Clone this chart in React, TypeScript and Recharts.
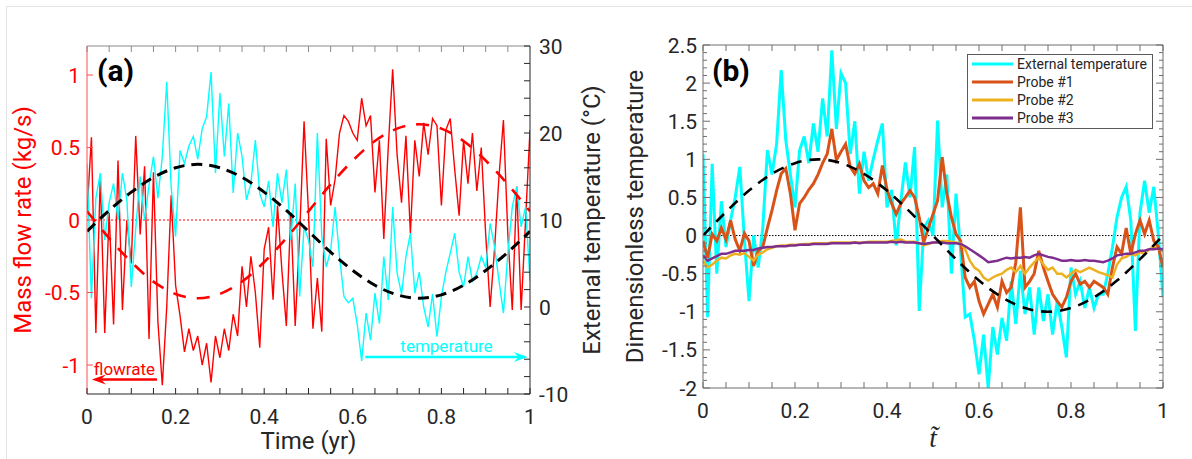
import React from 'react'
import { LineChart, Line, XAxis, YAxis, ReferenceLine, Legend } from 'recharts'

const FONT = 'Roboto, "Noto Sans", sans-serif'
const INK = '#262626'
const RED = '#ff0000'
const CYAN = '#00ffff'
const P1 = '#d95319'
const P2 = '#edb120'
const P3 = '#7e2f8e'

// ---- panel (a): one sample every 0.01 yr
const flowRate = [
  0.05, 0.57, -0.78, 0.3, -0.78, 0.05, -0.72, 0.41, -0.62, 0.0,
  -0.3, 0.58, -0.1, 0.37, -0.82, 0.33, -0.7, -1.14, -0.6, 0.17,
  -0.45, -0.66, -0.91, -0.75, -0.9, -0.8, -1.0, -0.85, -1.12, -0.8,
  -0.95, -0.75, -0.9, -0.65, -0.8, -0.32, -0.6, -0.25, -0.5, -0.88,
  -0.2, -0.05, -0.55, 0.1, -0.35, -0.73, 0.05, -0.73, -0.1, 0.68,
  0.05, -0.75, -0.4, -0.77, 0.56, 0.1, 0.28, 0.6, 0.72, 0.68,
  0.6, 0.55, 0.84, 0.65, 0.72, 0.19, 0.55, -0.13, 0.5, 1.04,
  0.45, 0.12, 0.58, -0.09, 0.55, 0.3, 0.67, 0.45, 0.7, 0.65,
  0.1, 0.62, 0.7, 0.35, 0.03, 0.55, 0.25, 0.6, 0.2, 0.5,
  -0.1, -0.6, -0.2, 0.3, 0.69, -0.1, -0.62, 0.23, -0.62, 0.0,
  0.62,
]
const extTempA = [
  16.5, 1.0, 12.5, 15.4, 7.7, 12.0, 14.2, 10.0, 15.4, 12.3,
  2.3, 9.0, 15.0, 10.0, 14.0, 17.3, 12.5, 17.3, 25.9, 13.8,
  8.1, 18.0, 16.5, 18.5, 19.6, 17.0, 20.5, 21.9, 27.0, 15.4,
  24.6, 17.3, 23.4, 13.1, 20.0, 17.3, 12.3, 14.2, 19.2, 13.0,
  11.5, 14.5, 9.2, 15.4, 12.0, 15.8, 7.7, 14.2, 1.2, 9.2,
  7.7, 4.6, 20.0, 8.1, 4.6, 6.5, 11.5, 5.8, 1.2, 0.5,
  1.0, -2.0, -6.2, -0.7, -3.8, 1.6, -1.9, 5.8, 0.8, 11.5,
  3.9, 1.5, 5.8, 8.5, 1.6, 4.0, 0.0, -2.3, 1.5, -3.4,
  1.2, 4.0, 6.2, 8.5, 4.0, 2.3, 5.8, 3.0, 3.9, 5.8,
  4.5, 9.6, 6.9, 3.0, -0.7, 6.2, 11.5, 13.8, 9.2, 11.5,
  3.0,
]
// fitted sinusoids, every 0.05
const fitTime = [0, 0.05, 0.1, 0.15, 0.2, 0.25, 0.3, 0.35, 0.4, 0.45, 0.5, 0.55, 0.6, 0.65, 0.7, 0.75, 0.8, 0.85, 0.9, 0.95, 1]
const flowFit = [0.06, -0.125, -0.29, -0.425, -0.51, -0.54, -0.51, -0.425, -0.29, -0.125, 0.06, 0.245, 0.41, 0.545, 0.63, 0.66, 0.63, 0.545, 0.41, 0.245, 0.06]
const tempFit = [8.7, 11.1, 13.2, 14.9, 16.0, 16.4, 16.0, 14.9, 13.2, 11.1, 8.7, 6.3, 4.2, 2.5, 1.4, 1.0, 1.4, 2.5, 4.2, 6.3, 8.7]

// ---- panel (b): dimensionless, every 0.01
const extTempB = [
  1.07, -1.07, 0.94, -0.5, 0.45, -0.15, 0.2, 0.5, 0.9, -0.05,
  -0.86, 0.0, -0.42, 0.1, 1.12, 0.8, 1.2, 2.17, 1.25, 0.8,
  0.37, 1.12, 1.3, 0.95, 1.47, 1.1, 1.8, 1.3, 2.43, 1.4,
  2.13, 2.0, 1.07, 1.5, 0.55, 1.1, 0.72, 1.0, 1.25, 1.47,
  0.37, 0.6, -0.13, 0.45, 0.96, 0.5, 1.16, -0.99, 0.1, 0.2,
  0.0, 1.51, 0.37, 0.8, -0.5, 0.55, -0.2, -1.07, -1.03, -1.38,
  -1.82, -1.3, -2.0, -1.2, -1.56, -1.08, -1.38, -0.6, -1.16, -0.46,
  -1.03, -0.68, -1.3, -0.68, -1.12, -0.77, -1.3, -0.86, -1.2, -1.6,
  -0.42, -0.77, -0.6, -0.95, -0.68, -0.95, -0.77, -0.77, -0.5, -0.16,
  0.24, 0.5, 0.64, 0.2, -1.25, 0.3, 0.72, 0.3, 0.64, 0.0,
  -0.81,
]
const probe1 = [
  -0.07, -0.29, 0.02, -0.07, 0.1, -0.05, 0.2, -0.05, -0.2, 0.03,
  -0.07, -0.4, -0.2, -0.15, 0.1, 0.33, 0.59, 0.81, 0.88, 0.55,
  0.07, 0.42, 0.5, 0.6, 0.68, 0.8, 0.95, 1.07, 1.4, 0.99,
  1.1, 1.2, 0.9, 0.81, 0.94, 0.72, 0.63, 0.68, 0.55, 0.92,
  0.6, 0.42, 0.28, 0.42, 0.5, 0.59, 0.5, 0.24, -0.09, 0.1,
  0.28, 0.46, 1.03, 0.55, 0.24, 0.02, -0.07, -0.55, -0.68, -0.6,
  -0.86, -1.03, -0.9, -0.77, -0.94, -0.6, -0.75, -0.68, -0.35, 0.37,
  -0.68, -0.6, -0.5, -0.2, -0.42, -0.6, -0.77, -0.86, -0.94, -0.81,
  -0.6, -0.5, -0.64, -0.6, -0.68, -0.6, -0.64, -0.68, -0.77, -0.42,
  -0.15, -0.24, 0.1, -0.24, 0.02, 0.2, 0.02, 0.2, -0.07, -0.15,
  -0.42,
]
const probe2 = [
  -0.33, -0.42, -0.38, -0.33, -0.29, -0.3, -0.26, -0.24, -0.25, -0.23,
  -0.28, -0.33, -0.25, -0.22, -0.18, -0.16, -0.14, -0.13, -0.13, -0.12,
  -0.12, -0.12, -0.11, -0.11, -0.1, -0.1, -0.1, -0.1, -0.09, -0.09,
  -0.09, -0.09, -0.09, -0.09, -0.09, -0.09, -0.08, -0.08, -0.08, -0.08,
  -0.08, -0.07, -0.06, -0.05, -0.08, -0.08, -0.08, -0.1, -0.13, -0.11,
  -0.09, -0.08, -0.07, -0.07, -0.08, -0.09, -0.1, -0.18, -0.33, -0.42,
  -0.46, -0.55, -0.59, -0.55, -0.52, -0.5, -0.45, -0.42, -0.48, -0.4,
  -0.5, -0.42, -0.35, -0.29, -0.38, -0.45, -0.42, -0.5, -0.5, -0.55,
  -0.5, -0.45, -0.48, -0.45, -0.42, -0.45, -0.48, -0.5, -0.52, -0.55,
  -0.38, -0.3, -0.28, -0.24, -0.26, -0.22, -0.24, -0.18, -0.15, -0.18,
  -0.2,
]
const probe3 = [
  -0.26, -0.33, -0.3, -0.27, -0.24, -0.24, -0.22, -0.2, -0.2, -0.2,
  -0.19, -0.19, -0.17, -0.16, -0.15, -0.15, -0.14, -0.14, -0.14, -0.13,
  -0.13, -0.12, -0.12, -0.12, -0.11, -0.11, -0.11, -0.11, -0.1, -0.1,
  -0.1, -0.1, -0.1, -0.09, -0.1, -0.09, -0.09, -0.09, -0.09, -0.09,
  -0.09, -0.08, -0.09, -0.08, -0.09, -0.09, -0.09, -0.1, -0.11, -0.1,
  -0.09, -0.09, -0.09, -0.1, -0.1, -0.1, -0.11, -0.14, -0.18, -0.22,
  -0.26, -0.3, -0.35, -0.34, -0.33, -0.31, -0.29, -0.3, -0.29, -0.29,
  -0.28, -0.29, -0.26, -0.24, -0.26, -0.28, -0.29, -0.31, -0.33, -0.33,
  -0.32, -0.33, -0.33, -0.32, -0.33, -0.33, -0.34, -0.35, -0.33, -0.3,
  -0.26, -0.25, -0.24, -0.24, -0.22, -0.2, -0.2, -0.18, -0.18, -0.17,
  -0.18,
]
const dimFit = [0, 0.31, 0.59, 0.81, 0.95, 1, 0.95, 0.81, 0.59, 0.31, 0, -0.31, -0.59, -0.81, -0.95, -1, -0.95, -0.81, -0.59, -0.31, 0]

// axis ticks
const timeTicks = fitTime
const flowTicks = [-1, -0.5, 0, 0.5, 1]
const tempTicks = [-10, -8, -6, -4, -2, 0, 2, 4, 6, 8, 10, 12, 14, 16, 18, 20, 22, 24, 26, 28, 30]
const dimTicks = [
  -2, -1.9, -1.8, -1.7, -1.6, -1.5, -1.4, -1.3, -1.2, -1.1, -1, -0.9, -0.8, -0.7, -0.6, -0.5,
  -0.4, -0.3, -0.2, -0.1, 0, 0.1, 0.2, 0.3, 0.4, 0.5, 0.6, 0.7, 0.8, 0.9, 1, 1.1, 1.2, 1.3,
  1.4, 1.5, 1.6, 1.7, 1.8, 1.9, 2, 2.1, 2.2, 2.3, 2.4, 2.5,
]

// annotation arrows (data coords)
const flowArrow = [{ x: 0.158, y: -1.1 }, { x: 0.011, y: -1.1 }]
const tempArrow = [{ x: 0.628, y: -5.75 }, { x: 0.995, y: -5.75 }]

const dataA = flowRate.map((v, i) => ({ t: i / 100, flow: v, temp: extTempA[i] }))
const fitA = fitTime.map((t, i) => ({ t, flowFit: flowFit[i], tempFit: tempFit[i] }))
const dataB = extTempB.map((v, i) => ({ t: i / 100, ext: v, p1: probe1[i], p2: probe2[i], p3: probe3[i] }))
const fitB = fitTime.map((t, i) => ({ t, fit: dimFit[i] }))

type Side = 'left' | 'right' | 'bottom' | 'top'
interface TickSpec {
  side: Side
  labelStep: number
  longStep: number
  long: number
  short: number
  stroke: string
  fill?: string
  gap: number
}

const onStep = (v: number, step: number) => Math.abs(v / step - Math.round(v / step)) < 1e-6
const fmt = (v: number) => String(Number(v.toFixed(2)))

// MATLAB-style inward ticks
function axisTick(s: TickSpec) {
  return function Tick(props: any) {
    const x: number = props.x
    const y: number = props.y
    const v: number = props.payload.value
    const len = onStep(v, s.longStep) ? s.long : s.short
    const show = s.fill !== undefined && onStep(v, s.labelStep)
    const font = { fontFamily: FONT, fontSize: 21, fill: s.fill }
    if (s.side === 'bottom' || s.side === 'top') {
      const d = s.side === 'bottom' ? -len : len
      return (
        <g>
          <line x1={x} x2={x} y1={y} y2={y + d} stroke={s.stroke} />
          {show && <text x={x} y={y + s.gap} textAnchor="middle" {...font}>{fmt(v)}</text>}
        </g>
      )
    }
    const d = s.side === 'left' ? len : -len
    return (
      <g>
        <line x1={x} x2={x + d} y1={y} y2={y} stroke={s.stroke} />
        {show && (
          <text x={s.side === 'left' ? x - s.gap : x + s.gap} y={y} dy="0.36em"
            textAnchor={s.side === 'left' ? 'end' : 'start'} {...font}>{fmt(v)}</text>
        )}
      </g>
    )
  }
}

const yTitle = (text: string, base: number, color: string) => (props: any) => {
  const vb = props.viewBox
  const cx = vb.x + base
  const cy = vb.y + vb.height / 2
  return (
    <text x={cx} y={cy} transform={`rotate(-90, ${cx}, ${cy})`} textAnchor="middle"
      fontFamily={FONT} fontSize={24} fill={color}>{text}</text>
  )
}

const xTitle = (text: string, base: number, serif?: boolean) => (props: any) => {
  const vb = props.viewBox
  return (
    <text x={vb.x + vb.width / 2} y={vb.y + base} textAnchor="middle"
      fontFamily={serif ? '"Liberation Serif", "DejaVu Serif", serif' : FONT}
      fontStyle={serif ? 'italic' : 'normal'} fontSize={serif ? 27 : 24} fill={INK}>{text}</text>
  )
}

const arrowShape = (label: string, color: string) => (p: any) => {
  const { x1, y1, x2, y2 } = p
  const dir = Math.sign(x2 - x1) || 1
  const head = 14
  return (
    <g>
      <line x1={x1} y1={y1} x2={x2 - dir * head * 0.6} y2={y2} stroke={color} strokeWidth={2.5} />
      <path d={`M${x2},${y2} L${x2 - dir * head},${y2 - 5} L${x2 - dir * head * 0.65},${y2} L${x2 - dir * head},${y2 + 5} Z`} fill={color} />
      <text x={(x1 + x2) / 2} y={y1 - 5} textAnchor="middle" fontFamily={FONT} fontSize={17} fill={color}>{label}</text>
    </g>
  )
}

const renderLegend = (props: any) => {
  const items = (props.payload || []).filter((it: any) => it.type !== 'none')
  return (
    <svg width={186} height={75} style={{ display: 'block' }}>
      <rect x={0.5} y={0.5} width={185} height={74} fill="#fff" stroke="#5a5a5a" />
      {items.map((it: any, i: number) => (
        <g key={it.value}>
          <line x1={5} x2={46} y1={10 + i * 18} y2={10 + i * 18} stroke={it.color} strokeWidth={3} />
          <text x={50} y={10 + i * 18} dy="0.36em" fontFamily={FONT} fontSize={14} fill={INK}>{it.value}</text>
        </g>
      ))}
    </svg>
  )
}

const letterStyle: React.CSSProperties = {
  position: 'absolute', fontFamily: FONT, fontWeight: 700, fontSize: 30, lineHeight: '30px', color: '#000',
}

export default function App() {
  return (
    <div style={{ position: 'absolute', left: 0, top: 0, width: 1192, height: 459, background: '#fff', fontFamily: FONT }}>
      <div style={{ position: 'absolute', left: 6, top: 6, width: 1186, height: 453, borderTop: '1px solid #e4e4e4', borderLeft: '1px solid #e4e4e4' }} />

      <div style={{ position: 'absolute', left: 0, top: 0 }}>
        <LineChart width={610} height={459} data={dataA} margin={{ top: 36, right: 0, bottom: 0, left: 0 }}>
          <XAxis dataKey="t" type="number" domain={[0, 1]} ticks={timeTicks} interval={0} height={65}
            allowDataOverflow tickSize={0} tickMargin={0} axisLine={{ stroke: INK }}
            tick={axisTick({ side: 'bottom', labelStep: 0.2, longStep: 0.05, long: 6, short: 6, stroke: INK, fill: INK, gap: 30 })}
            label={xTitle('Time (yr)', 55)} />
          <XAxis xAxisId="top" orientation="top" dataKey="t" type="number" domain={[0, 1]} ticks={timeTicks}
            interval={0} height={10} allowDataOverflow tickSize={0} tickMargin={0} axisLine={{ stroke: '#8a8a8a' }}
            tick={axisTick({ side: 'top', labelStep: 0.2, longStep: 0.05, long: 6, short: 6, stroke: '#8a8a8a', gap: 0 })} />
          <YAxis yAxisId="left" type="number" domain={[-1.2, 1.2]} ticks={flowTicks} interval={0} width={87}
            allowDataOverflow tickSize={0} tickMargin={0} axisLine={{ stroke: '#ff4d4d' }}
            tick={axisTick({ side: 'left', labelStep: 0.5, longStep: 0.5, long: 6, short: 6, stroke: '#ff4d4d', fill: RED, gap: 7 })}
            label={yTitle('Mass flow rate (kg/s)', 31, RED)} />
          <YAxis yAxisId="right" orientation="right" type="number" domain={[-10, 30]} ticks={tempTicks} interval={0}
            width={80} allowDataOverflow tickSize={0} tickMargin={0} axisLine={{ stroke: INK }}
            tick={axisTick({ side: 'right', labelStep: 10, longStep: 2, long: 6, short: 6, stroke: INK, fill: INK, gap: 9 })}
            label={yTitle('External temperature (°C)', 70, INK)} />
          <ReferenceLine yAxisId="left" y={0} stroke={RED} strokeWidth={1} strokeDasharray="2 2" />
          <Line yAxisId="left" dataKey="flow" type="linear" stroke={RED} strokeWidth={1.4} dot={false} isAnimationActive={false} />
          <Line yAxisId="right" dataKey="temp" type="linear" stroke={CYAN} strokeWidth={1.4} dot={false} isAnimationActive={false} />
          <Line yAxisId="left" data={fitA} dataKey="flowFit" type="monotone" stroke={RED} strokeWidth={2.6}
            strokeDasharray="13 11" dot={false} isAnimationActive={false} />
          <Line yAxisId="right" data={fitA} dataKey="tempFit" type="monotone" stroke="#000" strokeWidth={3}
            strokeDasharray="11 7" dot={false} isAnimationActive={false} />
          <ReferenceLine yAxisId="left" segment={flowArrow} shape={arrowShape('flowrate', RED)} />
          <ReferenceLine yAxisId="right" segment={tempArrow} shape={arrowShape('temperature', CYAN)} />
        </LineChart>
      </div>

      <div style={{ position: 'absolute', left: 600, top: 0 }}>
        <LineChart width={592} height={459} data={dataB} margin={{ top: 35, right: 0, bottom: 0, left: 0 }}>
          <XAxis dataKey="t" type="number" domain={[0, 1]} ticks={timeTicks} interval={0} height={71}
            allowDataOverflow tickSize={0} tickMargin={0} axisLine={{ stroke: '#6e6e6e' }}
            tick={axisTick({ side: 'bottom', labelStep: 0.2, longStep: 0.05, long: 6, short: 6, stroke: '#6e6e6e', fill: INK, gap: 30 })}
            label={xTitle('t\u0303', 59, true)} />
          <XAxis xAxisId="top" orientation="top" dataKey="t" type="number" domain={[0, 1]} ticks={timeTicks}
            interval={0} height={10} allowDataOverflow tickSize={0} tickMargin={0} axisLine={{ stroke: '#6e6e6e' }}
            tick={axisTick({ side: 'top', labelStep: 0.2, longStep: 0.05, long: 6, short: 6, stroke: '#6e6e6e', gap: 0 })} />
          <YAxis yAxisId="l" type="number" domain={[-2, 2.5]} ticks={dimTicks} interval={0} width={103}
            allowDataOverflow tickSize={0} tickMargin={0} axisLine={{ stroke: '#6e6e6e' }}
            tick={axisTick({ side: 'left', labelStep: 0.5, longStep: 0.5, long: 7, short: 4, stroke: '#6e6e6e', fill: INK, gap: 6 })}
            label={yTitle('Dimensionless temperature', 43, INK)} />
          <YAxis yAxisId="r" orientation="right" type="number" domain={[-2, 2.5]} ticks={dimTicks} interval={0}
            width={29} allowDataOverflow tickSize={0} tickMargin={0} axisLine={{ stroke: '#6e6e6e' }}
            tick={axisTick({ side: 'right', labelStep: 0.5, longStep: 0.5, long: 7, short: 4, stroke: '#6e6e6e', gap: 0 })} />
          <ReferenceLine yAxisId="l" y={0} stroke="#000" strokeWidth={1} strokeDasharray="1.5 1.5" />
          <Line yAxisId="l" dataKey="ext" name="External temperature" type="linear" stroke={CYAN} strokeWidth={3}
            dot={false} isAnimationActive={false} />
          <Line yAxisId="l" dataKey="p1" name="Probe #1" type="linear" stroke={P1} strokeWidth={3}
            dot={false} isAnimationActive={false} />
          <Line yAxisId="l" dataKey="p2" name="Probe #2" type="linear" stroke={P2} strokeWidth={2.5}
            dot={false} isAnimationActive={false} />
          <Line yAxisId="l" dataKey="p3" name="Probe #3" type="linear" stroke={P3} strokeWidth={2.5}
            dot={false} isAnimationActive={false} />
          <Line yAxisId="l" data={fitB} dataKey="fit" legendType="none" type="monotone" stroke="#000" strokeWidth={2.6}
            strokeDasharray="11 8" dot={false} isAnimationActive={false} />
          <Legend layout="horizontal" verticalAlign="middle" align="center" width={186} content={renderLegend}
            wrapperStyle={{ top: 54, left: 367, width: 186, height: 75 }} />
        </LineChart>
      </div>

      <div style={{ ...letterStyle, left: 97, top: 56 }}>(a)</div>
      <div style={{ ...letterStyle, left: 712, top: 56 }}>(b)</div>
    </div>
  )
}
